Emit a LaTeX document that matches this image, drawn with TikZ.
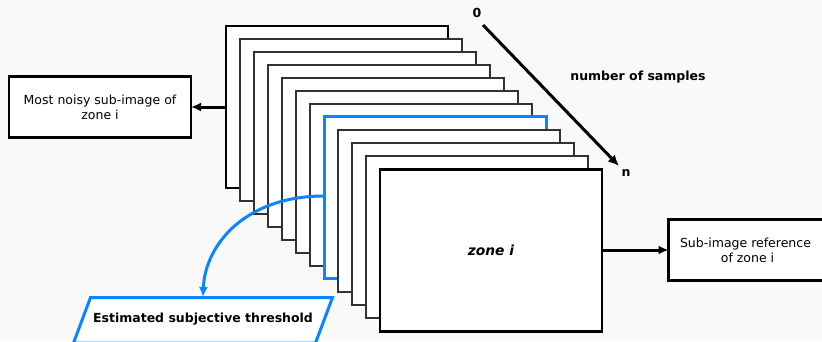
\documentclass[tikz,border=0pt]{standalone}
\usepackage{fontspec}
\setmainfont{DejaVu Sans}
\usetikzlibrary{arrows.meta}
\definecolor{bgc}{RGB}{249,249,249}
\definecolor{myblue}{RGB}{10,132,255}
\definecolor{thinc}{RGB}{50,50,50}
\begin{document}
\begin{tikzpicture}[x=1pt,y=-1pt,
  frame/.style={draw=thinc, line width=1.1pt, fill=white, minimum width=222pt, minimum height=162pt, anchor=north west, inner sep=0pt, outer sep=0pt},
  thickframe/.style={frame, draw=black, line width=2.2pt},
  blueframe/.style={frame, draw=myblue, line width=3pt},
  outbox/.style={draw=black, line width=2.2pt, fill=white, align=center, font=\fontsize{12.5}{15}\selectfont, inner sep=0pt, outer sep=0pt},
  arr/.style={line width=3pt, -{Latex[length=10pt,width=9pt]}},
  lbl/.style={font=\bfseries\fontsize{12.5}{15}\selectfont, inner sep=0pt}]
\fill[bgc] (0,0) rectangle (822,341);
\useasboundingbox (0,0) rectangle (822,341);
% stack of sub-images
\node[thickframe] (r1) at (226,26) {};
\node[frame] (r2) at (240,39) {};
\node[frame] (r3) at (254,52) {};
\node[frame] (r4) at (268,65) {};
\node[frame] (r5) at (282,78) {};
\node[frame] (r6) at (296,91) {};
\node[frame] (r7) at (310,104) {};
\node[blueframe] (r8) at (324,116) {};
\node[frame] (r9) at (338,130) {};
\node[frame] (r10) at (352,143) {};
\node[frame] (r11) at (366,156) {};
\node[thickframe] (r12) at (380,169.5) {};
\node[font=\bfseries\itshape\fontsize{13.8}{16}\selectfont] (zl) at (r12.center) {zone i};
% left box
\node[outbox, minimum width=182pt, minimum height=61pt] (noisy) at (100,107) {Most noisy sub-image of\\zone i};
\draw[arr] (r1.west |- noisy.east) -- (noisy.east);
% right box
\node[outbox, minimum width=158pt, minimum height=61pt, anchor=west] (ref) at (668.5,250) {\hspace*{-4pt}Sub-image reference\\of zone i};
\draw[arr] (r12.east |- ref.west) -- (ref.west);
% sample axis
\coordinate (a0) at (483,25);
\coordinate (an) at (619,166);
\draw[line width=3pt, -{Latex[length=11pt,width=10pt]}] (a0) -- (an);
\node[lbl] (z0) at (477,13) {0};
\node[lbl] (zn) at (626,173) {n};
\node[lbl] (ns) at (638,77) {number of samples};
% threshold parallelogram
\coordinate (p1) at (90.5,297.5);
\coordinate (p2) at (332.5,297.5);
\coordinate (p3) at (315.5,343);
\coordinate (p4) at (73.5,343);
\draw[myblue, line width=3pt, fill=white, line join=miter] (p1) -- (p2) -- (p3) -- (p4) -- cycle;
\node[lbl] (thr) at (203,319) {Estimated subjective threshold};
% blue curved arrow
\coordinate (bs) at (r8.west |- 0,196);
\draw[myblue, line width=3pt, -{Latex[length=10pt,width=9pt]}] (bs) .. controls (245,196) and (205,245) .. (203,297);
\end{tikzpicture}
\end{document}
